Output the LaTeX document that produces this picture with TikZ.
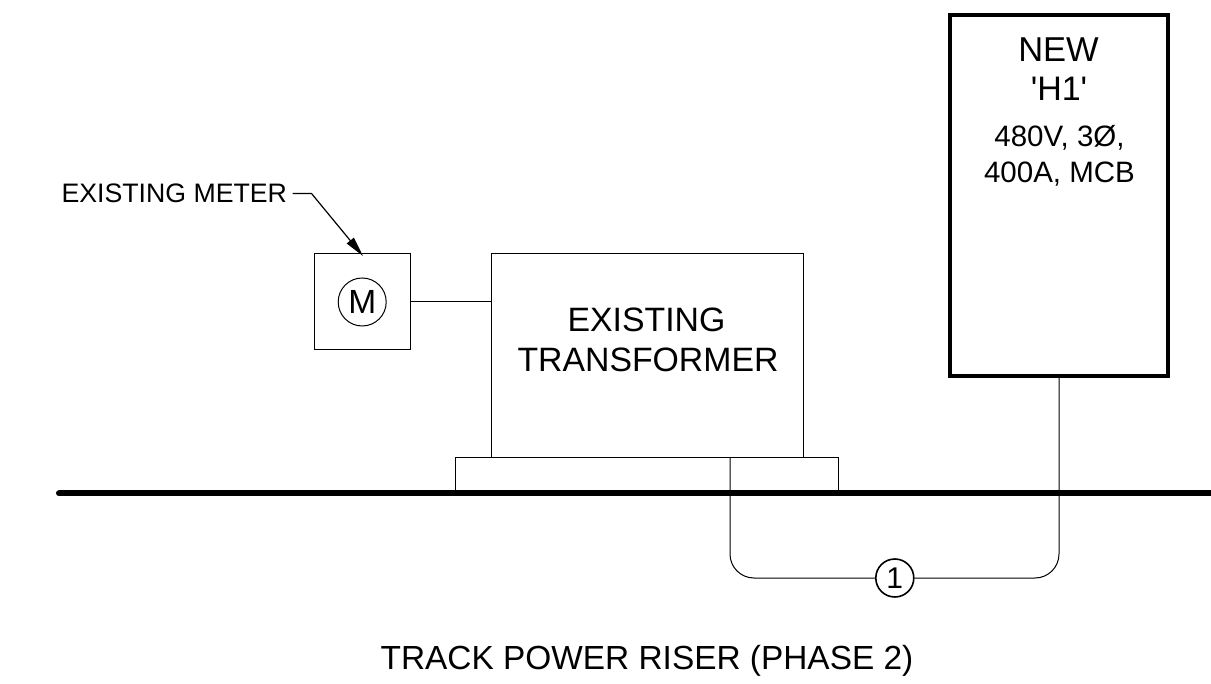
\documentclass[tikz,border=0pt]{standalone}
\usepackage{fontspec}
\setmainfont{Liberation Sans}
\newfontfamily\plainfont{Liberation Sans}
\usetikzlibrary{arrows.meta}
\newcommand{\fsz}[1]{\fontsize{#1}{#1}\selectfont}
\tikzset{
 fine/.style={line width=1pt,draw=black},
 heavy/.style={line width=6pt,draw=black,line cap=round},
 boxn/.style={rectangle,inner sep=0pt,outer sep=0pt,anchor=north west},
 lbl/.style={inner sep=0pt,outer sep=0pt,align=center,text=black,anchor=base},
}
\begin{document}
\begin{tikzpicture}[x=1pt,y=-1pt]
\useasboundingbox[fill=white] (0,0) rectangle (1211,684);
% ground line
\coordinate (gl) at (59,493.5);
\coordinate (gr) at (1214,493.5);
% boxes
\node[boxn,fine,minimum width=96pt,minimum height=96pt] (meter) at (314,254) {};
\node[boxn,fine,minimum width=312pt,minimum height=204pt] (xfmr) at (491,254) {};
\node[boxn,fine,minimum width=383pt,minimum height=35pt] (pad) at (455,458) {};
\node[boxn,draw=black,line width=4pt,minimum width=218pt,minimum height=361pt] (panel) at (950,15.5) {};
\draw[heavy] (gl) -- (gr);
% meter symbol
\node[circle,fine,minimum size=48pt,inner sep=0pt,font=\fsz{33.5}] (m) at (362.2,302) {M};
\draw[fine] (meter.east) -- (xfmr.west |- meter.east);
% conduit
\coordinate (c1) at (730,458);
\node[circle,draw=black,line width=1.6pt,fill=white,minimum size=38pt,inner sep=0pt,font=\fsz{30}] (one) at (894.8,578) {1};
\draw[fine,rounded corners=24pt] (c1) -- (730,578) -- (one.west);
\draw[fine,rounded corners=24pt] (one.east) -- (1059,578) -- (1059,376);
% labels
\node[lbl,font=\fsz{33.8}] (tx1) at (646.5,332) {EXISTING};
\node[lbl,font=\fsz{33.8}] (tx2) at (648,372) {TRANSFORMER};
\node[lbl,font=\fsz{34.5}] (p1) at (1058.5,62) {NEW};
\node[lbl,font=\fsz{34}] (p2) at (1059,101) {\plainfont 'H1'};
\node[lbl,font=\fsz{29.5}] (p3) at (1059.5,147) {480V, 3Ø,};
\node[lbl,font=\fsz{29.5}] (p4) at (1059.5,183) {400A, MCB};
\node[lbl,font=\fsz{26.7},anchor=base east] (em) at (287,203) {EXISTING METER};
\node[lbl,font=\fsz{33.4}] (title) at (647,669) {TRACK POWER RISER (PHASE 2)};
% leader
\coordinate (l1) at (292.5,193.5);
\coordinate (l2) at (311.5,193.5);
\draw[line width=1.2pt,-{Triangle[length=20pt,width=9pt]}] (l1) -- (l2) -- (363,256);
\end{tikzpicture}
\end{document}
